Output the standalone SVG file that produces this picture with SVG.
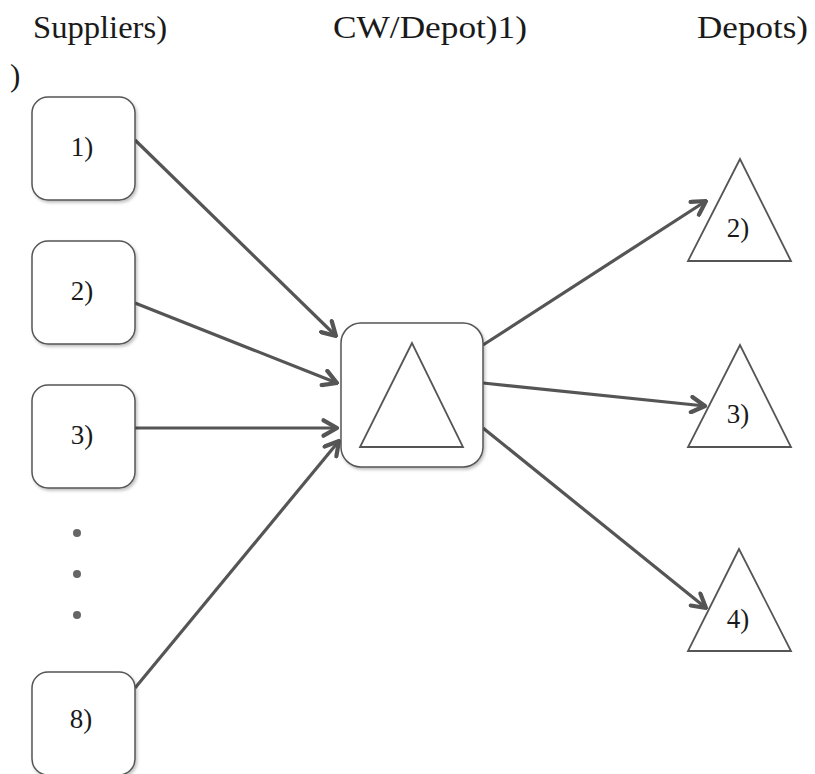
<svg xmlns="http://www.w3.org/2000/svg" width="815" height="774" viewBox="0 0 815 774">
<style>
text{font-family:"Liberation Serif","DejaVu Serif",serif;fill:#1a1a1a}
.lb{font-size:27px;text-anchor:middle}
.box{fill:#fff;stroke:#555;stroke-width:1.5;filter:url(#sh)}
.tri{fill:#fff;stroke:#555;stroke-width:1.8}
.c{stroke:#555;stroke-width:3.2;fill:none;marker-end:url(#ah)}
.dot{fill:#666}
</style>
<defs>
<filter id="sh" x="-10%" y="-10%" width="130%" height="130%">
<feDropShadow dx="1.5" dy="2" stdDeviation="1.5" flood-color="#000" flood-opacity="0.25"/>
</filter>
<marker id="ah" viewBox="0 0 10 10" refX="9" refY="5" markerWidth="6" markerHeight="6" orient="auto" markerUnits="strokeWidth">
<path d="M2,1 L9,5 L2,9" fill="none" stroke="#555" stroke-width="2.2" stroke-linecap="round" stroke-linejoin="round"/>
</marker>
</defs>
<g id="headers">
<text x="33" y="38" style="font-size:31px" textLength="134" lengthAdjust="spacingAndGlyphs">Suppliers)</text>
<text x="333" y="38" style="font-size:31px" textLength="194" lengthAdjust="spacingAndGlyphs">CW/Depot)1)</text>
<text x="697" y="38" style="font-size:31px" textLength="111" lengthAdjust="spacingAndGlyphs">Depots)</text>
<text x="10" y="86" style="font-size:31px">)</text>
</g>
<g id="connectors">
<line class="c" x1="135" y1="140" x2="336" y2="336"/>
<line class="c" x1="135" y1="303" x2="337" y2="383"/>
<line class="c" x1="135" y1="428" x2="337" y2="428"/>
<line class="c" x1="135" y1="688" x2="339" y2="441"/>
<line class="c" x1="483" y1="345" x2="706" y2="201"/>
<line class="c" x1="483" y1="383" x2="705" y2="406"/>
<line class="c" x1="483" y1="428" x2="706" y2="608"/>
</g>
<g id="supplier1"><rect class="box" x="32" y="97" width="103" height="103" rx="16"/><text class="lb" x="82" y="156">1)</text></g>
<g id="supplier2"><rect class="box" x="32" y="241" width="103" height="103" rx="16"/><text class="lb" x="82" y="300">2)</text></g>
<g id="supplier3"><rect class="box" x="32" y="385" width="103" height="103" rx="16"/><text class="lb" x="82" y="444">3)</text></g>
<g id="ellipsis"><circle class="dot" cx="77" cy="533" r="4"/><circle class="dot" cx="77" cy="574" r="4"/><circle class="dot" cx="77" cy="615" r="4"/></g>
<g id="supplier8"><rect class="box" x="32" y="672" width="103" height="103" rx="16"/><text class="lb" x="81" y="728">8)</text></g>
<g id="cw"><rect class="box" x="341" y="323" width="142" height="144" rx="20"/><polygon class="tri" points="412,343 360,447 463,447"/></g>
<g id="depot2"><polygon class="tri" points="740,159 688,261 791,261"/><text class="lb" x="738" y="237">2)</text></g>
<g id="depot3"><polygon class="tri" points="740,345 688,447 791,447"/><text class="lb" x="738" y="423">3)</text></g>
<g id="depot4"><polygon class="tri" points="739,549 688,651 791,651"/><text class="lb" x="738" y="628">4)</text></g>
</svg>
